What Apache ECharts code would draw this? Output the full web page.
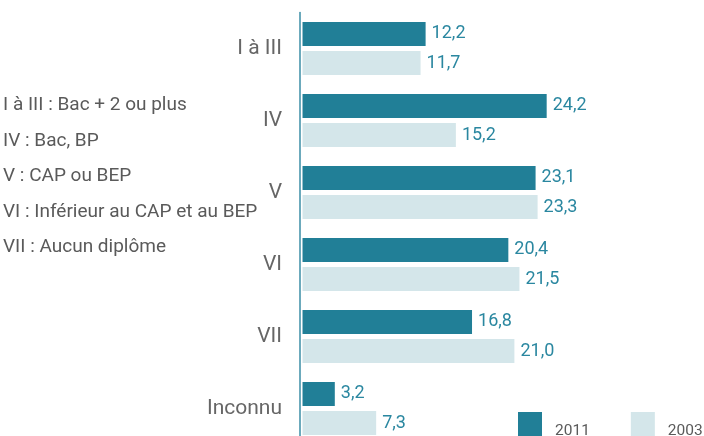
<!DOCTYPE html>
<html>
<head>
<meta charset="utf-8">
<script src="https://cdn.jsdelivr.net/npm/echarts@6/dist/echarts.min.js"></script>
<style>
html,body{margin:0;padding:0;background:#fff;}
#chart{width:704px;height:436px;}
</style>
</head>
<body>
<div id="chart"></div>
<script>
var categories = ['I à III', 'IV', 'V', 'VI', 'VII', 'Inconnu'];
var values2011 = [12.2, 24.2, 23.1, 20.4, 16.8, 3.2];
var values2003 = [11.7, 15.2, 23.3, 21.5, 21.0, 7.3];
var notes = [
    'I à III : Bac + 2 ou plus',
    'IV : Bac, BP',
    'V : CAP ou BEP',
    'VI : Inférieur au CAP et au BEP',
    'VII : Aucun diplôme'
];

var font = 'Roboto, sans-serif';
var dark = '#217f97', light = '#d4e6ea', labelCol = '#2a87a0', grey = '#5a5a5a';

function fmt(p) {
    return p.value.toFixed(1).replace('.', ',');
}

var chart = echarts.init(document.getElementById('chart'));

var option = {
    animation: false,
    grid: { left: 300, top: 12.5, width: 396, height: 432, containLabel: false, outerBoundsMode: 'none' },
    legend: {
        left: 518,
        top: 412,
        width: 400,
        padding: 0,
        icon: 'rect',
        itemWidth: 24,
        itemHeight: 38,
        itemGap: 41,
        data: ['2011', '2003'],
        textStyle: { fontFamily: font, fontSize: 15.5, color: grey, padding: [0, 0, 0, 8] }
    },
    xAxis: {
        type: 'value',
        min: -0.25,
        max: 39,
        show: false
    },
    yAxis: {
        type: 'category',
        inverse: true,
        data: categories,
        axisTick: { show: false },
        axisLine: { onZero: false, lineStyle: { color: '#3b8ea6', width: 1.5 } },
        axisLabel: { fontFamily: font, fontSize: 21, color: '#666', margin: 18 }
    },
    graphic: notes.map(function (t, i) {
        return {
            type: 'text',
            left: 3,
            top: 96 + i * 35.5,
            style: { text: t, font: '19px ' + font, fill: grey }
        };
    }),
    series: [
        {
            name: '2011',
            type: 'bar',
            data: values2011,
            barWidth: 24,
            barGap: '21%',
            itemStyle: { color: dark },
            label: { show: true, position: 'right', distance: 6, formatter: fmt,
                fontFamily: font, fontSize: 18, color: labelCol }
        },
        {
            name: '2003',
            type: 'bar',
            data: values2003,
            barWidth: 24,
            itemStyle: { color: light },
            label: { show: true, position: 'right', distance: 6, formatter: fmt,
                fontFamily: font, fontSize: 18, color: labelCol }
        }
    ]
};

chart.setOption(option);
</script>
</body>
</html>
